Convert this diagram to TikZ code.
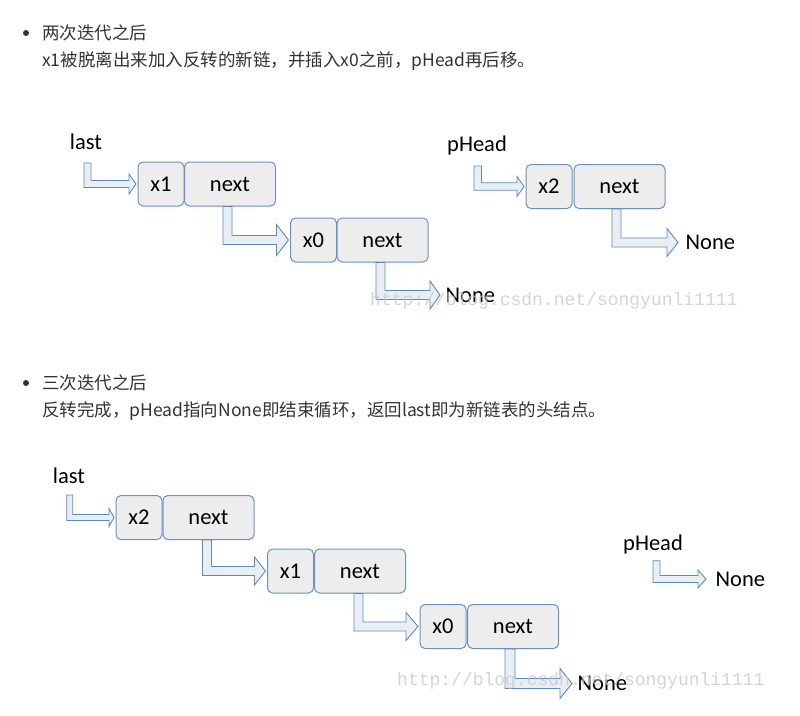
\documentclass[tikz,border=0pt]{standalone}
\usepackage{fontspec}
\setmainfont{Carlito}
\newfontfamily\cjk{Noto Sans CJK SC}
\newfontfamily\wmfont{Liberation Mono}
\usetikzlibrary{calc}
\definecolor{boxfill}{HTML}{EDEDED}
\definecolor{boxline}{HTML}{6B92BE}
\definecolor{arrfill}{HTML}{E9EEF5}
\definecolor{arrline}{HTML}{5F8BBB}
\definecolor{txt}{HTML}{333333}
\tikzset{
  cellsmall/.style={draw=boxline, fill=boxfill, rounded corners=5pt, minimum width=46pt, minimum height=44pt, inner sep=0pt, line width=1pt, font=\fontsize{22.5}{24}\selectfont, text=black},
  cellbig/.style={cellsmall, minimum width=91pt},
  lbl/.style={inner sep=0pt, anchor=base, font=\fontsize{22.5}{24}\selectfont, text=black},
  nonelbl/.style={inner ysep=0pt, anchor=west, font=\fontsize{22.5}{24}\selectfont, text=black},
  blockarrow/.style={draw=arrline, fill=arrfill, line width=0.9pt, line join=miter},
  para/.style={anchor=west, inner sep=0pt, font=\cjk\fontsize{17.5}{20}\selectfont, text=txt},
  wm/.style={anchor=west, inner sep=0pt, font=\wmfont\fontsize{18}{20}\selectfont, text=gray!45, opacity=0.75},
  bulletdot/.style={circle, fill=txt, inner sep=0pt, minimum size=6pt}
}
% #1 source anchor, #2 offset, #3 target anchor, #4 shaft width, #5 head length, #6 head half height
\newcommand{\barrow}[6]{%
  \draw[blockarrow] let \p1=($(#1)+(#2)$), \p2=($(#3)+(-1.5,0)$) in
    (\x1,\y1) -- ({\x1},{\y2-0.5*#4pt}) -- ({\x2-#5pt},{\y2-0.5*#4pt})
    -- ({\x2-#5pt},{\y2-#6pt}) -- (\x2,\y2) -- ({\x2-#5pt},{\y2+#6pt})
    -- ({\x2-#5pt},{\y2+0.5*#4pt}) -- ({\x1+#4pt},{\y2+0.5*#4pt})
    -- ({\x1+#4pt},\y1) -- cycle;
}
\begin{document}
\begin{tikzpicture}[x=1pt,y=-1pt]
\fill[white] (0,0) rectangle (800,715);
\useasboundingbox (0,0) rectangle (800,715);

% text paragraphs
\node[bulletdot] (b1) at (26,33) {};
\node[para] (t1) at (42,33) {两次迭代之后};
\node[para] (t2) at (42,61) {x1被脱离出来加入反转的新链，并插入x0之前，pHead再后移。};
\node[bulletdot] (b2) at (26,383) {};
\node[para] (t3) at (42,383) {三次迭代之后};
\node[para] (t4) at (42,411) {反转完成，pHead指向None即结束循环，返回last即为新链表的头结点。};

% diagram 1
\node[lbl] (last1) at (86,149) {last};
\node[cellsmall] (x1a) at (161,184) {x1};
\node[cellbig] (n1a) at (230,184) {next};
\node[cellsmall] (x0a) at (313.5,240) {x0};
\node[cellbig] (n0a) at (382.5,240) {next};
\node[nonelbl, inner xsep=4pt] (none1) at (441.5,295) {None};

\node[lbl] (phead1) at (477,151) {pHead};
\node[cellsmall] (x2a) at (549,186.5) {x2};
\node[cellbig] (n2a) at (619.5,186.5) {next};
\node[nonelbl, inner xsep=6pt] (none2) at (679.5,242.5) {None};

\barrow{last1.base}{-2,14}{x1a.west}{7}{7}{10}
\barrow{n1a.south}{-7,0}{x0a.west}{9}{12}{15.5}
\barrow{n0a.south}{-6.5,0}{none1.west}{9}{10}{14}
\barrow{phead1.base}{-3,15}{x2a.west}{7.5}{7}{10}
\barrow{n2a.south}{-7.5,0}{none2.west}{9}{11}{14}

% diagram 2
\node[lbl] (last2) at (69,483.3) {last};
\node[cellsmall] (x2b) at (139,517.5) {x2};
\node[cellbig] (n2b) at (208.5,517.5) {next};
\node[cellsmall] (x1b) at (290.5,571) {x1};
\node[cellbig] (n1b) at (360,571) {next};
\node[cellsmall] (x0b) at (443,626.5) {x0};
\node[cellbig] (n0b) at (513,626.5) {next};
\node[nonelbl, inner xsep=4pt] (none3) at (573.5,683.5) {None};

\node[lbl] (phead2) at (653,550) {pHead};
\node[nonelbl, inner xsep=8pt] (none4) at (707.5,579) {None};

\barrow{last2.base}{-2.3,11.7}{x2b.west}{6}{5}{9}
\barrow{n2b.south}{-6,0}{x1b.west}{9}{11}{14}
\barrow{n1b.south}{-6,0}{x0b.west}{9}{12}{14}
\barrow{n0b.south}{-8,0}{none3.west}{10}{12}{15}
\barrow{phead2.base}{0,10.7}{none4.west}{7}{8}{9}

% watermarks
\node[wm] (wm1) at (370,301) {http://blog.csdn.net/songyunli1111};
\node[wm] (wm2) at (397,681) {http://blog.csdn.net/songyunli1111};
\end{tikzpicture}
\end{document}
